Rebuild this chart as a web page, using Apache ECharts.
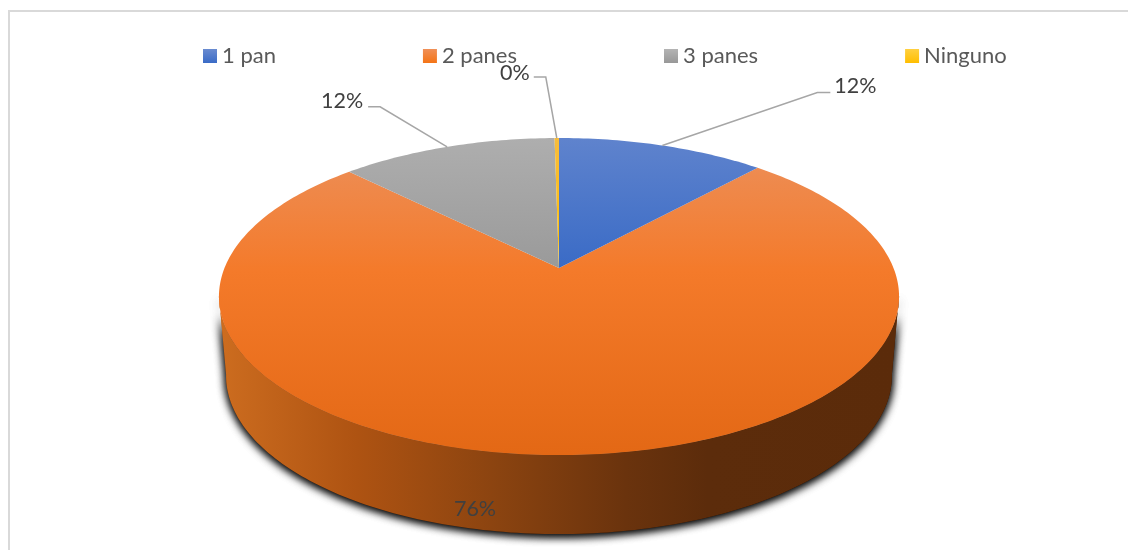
<!DOCTYPE html>
<html><head><meta charset="utf-8">
<style>html,body{margin:0;padding:0;background:#fff}#c{width:1128px;height:550px}</style>
<script src="https://cdn.jsdelivr.net/npm/echarts@6/dist/echarts.min.js"></script>
</head><body><div id="c"></div>
<script>
const categories = ['1 pan', '2 panes', '3 panes', 'Ninguno'];
const values = [11.75, 75.75, 12.25, 0.25];
const percentLabels = ['12%', '76%', '12%', '0%'];

function vgrad(stops, y0, y1) {
  return {type:'linear', x:0, y:y0, x2:0, y2:y1, global:true,
    colorStops: stops.map(s => ({offset:s[0], color:s[1]}))};
}
function boxGrad(c0, c1) {
  return {type:'linear', x:0, y:0, x2:0, y2:1, colorStops:[{offset:0,color:c0},{offset:1,color:c1}]};
}
const topFill = [
  vgrad([[0,'#5F83CD'],[1,'#3A6BC6']], 138, 268),
  vgrad([[0,'#F0935F'],[0.12,'#EE8A4E'],[0.42,'#F47A2A'],[1,'#E36815']], 138, 455),
  vgrad([[0,'#AEAEAE'],[1,'#9A9A9A']], 138, 268),
  vgrad([[0,'#F7BC3C'],[1,'#FFC000']], 138, 268)
];
const legendFill = [
  boxGrad('#6A8BD0','#3A6BC6'), boxGrad('#F09058','#F47416'),
  boxGrad('#B4B4B4','#989898'), boxGrad('#FFD040','#FFBE00')
];
const baseColor = ['#4472C4','#ED7D31','#A5A5A5','#FFC000'];

// perspective projection of the pie disc
const CX = 559, CY = 268, K = 0.18, A = 153.4, B = 334.5, DEPTH = 79, BOTTOM_SCALE = 0.979;
function proj(deg) {
  const t = deg * Math.PI / 180, u = Math.sin(t), v = Math.cos(t), w = 1 + K * v;
  return [CX + B * u / w, CY - A * v / w];
}
function lower(p) { return [CX + (p[0] - CX) * BOTTOM_SCALE, p[1] + DEPTH]; }
const total = values.reduce((a, b) => a + b, 0);
function span(i) {
  const s = values.slice(0, i).reduce((a, b) => a + b, 0);
  return [s / total * 360, (s + values[i]) / total * 360];
}
function arc(a0, a1) {
  const n = Math.max(2, Math.ceil(Math.abs(a1 - a0)));
  const r = [];
  for (let i = 0; i <= n; i++) r.push(proj(a0 + (a1 - a0) * i / n));
  return r;
}
// label layout: elbow and text offsets from the slice's rim anchor
const labelLayout = [
  {elbow:[155,-53], end:[168,-53], text:[172,-59], align:'left'},
  null,
  {elbow:[-67,-40], end:[-79,-40], text:[-84,-46], align:'right'},
  {elbow:[-11,-61], end:[-23,-61], text:[-27,-65], align:'right'}
];
const frontLabel = {dx:-84, dy:241};
const labelFont = '21.5px Lato';

function renderSlice(i, api) {
  const sp = span(i), kids = [];
  const pct = percentLabels[i];
  if (i === 1) {
    const front = arc(100, 260);
    const poly = front.concat(front.map(lower).reverse());
    const wallFill = {type:'linear', x:222, y:0, x2:896, y2:0, global:true, colorStops:[
        {offset:0,color:'#CC6C1F'},{offset:0.2,color:'#AE5312'},{offset:0.4,color:'#8C4410'},
        {offset:0.6,color:'#6A330D'},{offset:0.72,color:'#5C2C0B'},{offset:1,color:'#5B2B0A'}]};
    [0, 1].forEach(() => kids.push({type:'polygon', z2:1, shape:{points:poly}, style:{
      fill:wallFill, shadowBlur:10, shadowColor:'rgba(0,0,0,0.95)', shadowOffsetX:0, shadowOffsetY:2
    }}));
  }
  kids.push({type:'polygon', z2:2, shape:{points:[[CX,CY]].concat(arc(sp[0], sp[1]))},
    style:{fill:topFill[i]}});
  const lay = labelLayout[i];
  if (lay) {
    const a = proj((sp[0] + sp[1]) / 2);
    kids.push({type:'polyline', z2:3, shape:{points:[a,[a[0]+lay.elbow[0],a[1]+lay.elbow[1]],[a[0]+lay.end[0],a[1]+lay.end[1]]]},
      style:{stroke:'#A6A6A6', lineWidth:1.5, fill:null}});
    kids.push({type:'text', z2:4, style:{text:pct, x:a[0]+lay.text[0], y:a[1]+lay.text[1],
      align:lay.align, verticalAlign:'middle', fill:'#404040', font:labelFont}});
  } else {
    kids.push({type:'text', z2:4, style:{text:pct, x:CX+frontLabel.dx, y:CY+frontLabel.dy,
      align:'center', verticalAlign:'middle', fill:'#404040', font:labelFont}});
  }
  return {type:'group', children:kids};
}

const chart = echarts.init(document.getElementById('c'), null, {renderer:'canvas'});
chart.setOption({
  animation:false,
  backgroundColor:'#fff',
  legend:{
    left:203, top:45, padding:0, itemGap:147, itemWidth:14, itemHeight:14, icon:'rect', selectedMode:false,
    textStyle:{color:'#595959', fontFamily:'Lato', fontSize:22, padding:[0,0,0,0]},
    data:categories.map((n,i)=>({name:n, itemStyle:{color:legendFill[i]}}))
  },
  graphic:[{type:'polyline', silent:true, z:-1, shape:{points:[[9,550],[9,11],[1128,11]]},
    style:{stroke:'#D9D9D9', lineWidth:2, fill:null}}],
  series:categories.map((n,i)=>({
    type:'custom', name:n, coordinateSystem:'none', z:i===1?1:2,
    itemStyle:{color:baseColor[i]},
    data:[values[i]],
    renderItem:(p,api)=>renderSlice(i,api)
  }))
});
</script></body></html>
